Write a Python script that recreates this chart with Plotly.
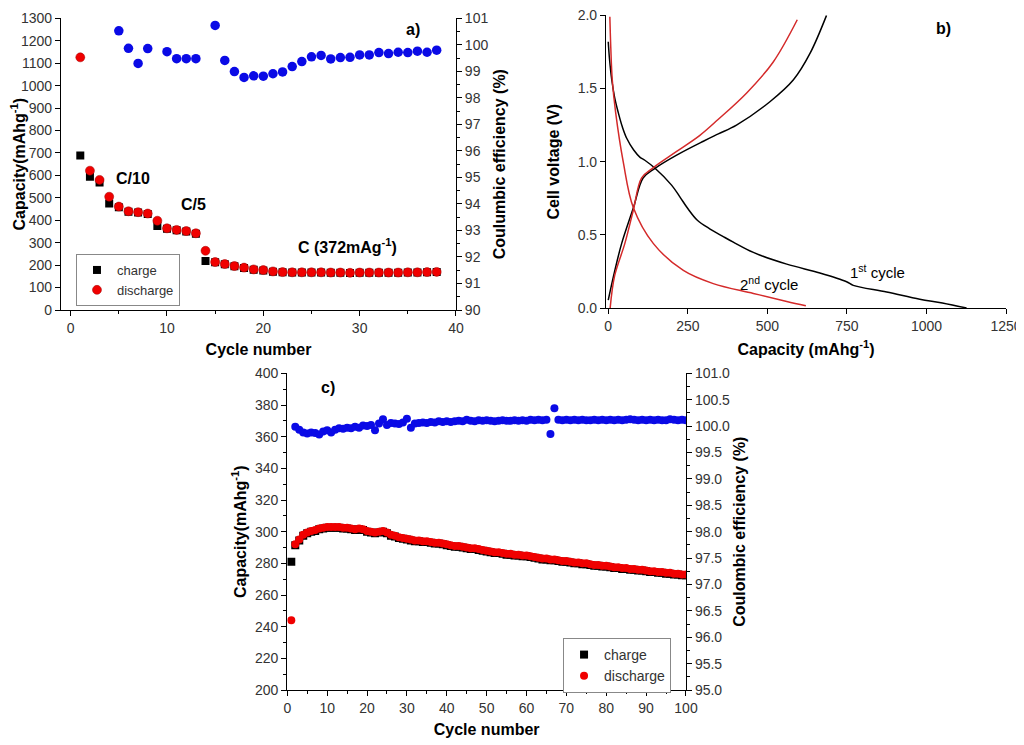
import plotly.graph_objects as go

# ---- panel a: rate capability (cycles 1-38) ----
cycles_a = list(range(1, 39))
charge_a = [689, 594, 568, 475, 458, 438, 435, 428, 374, 362, 355, 350, 340, 218,
            213, 204, 195, 187, 180, 176, 171, 168, 167, 167, 167, 167, 166, 166,
            165, 166, 166, 166, 166, 166, 167, 167, 168, 169]
discharge_a = [1126, 621, 580, 505, 461, 440, 436, 430, 398, 364, 357, 352, 342, 264,
               214, 205, 196, 189, 181, 178, 172, 169, 168, 168, 168, 168, 167, 167,
               166, 167, 167, 167, 167, 167, 168, 168, 169, 170]
ce_a = [None, None, None, None, 100.53, 99.87, 99.30, 99.86, None, 99.74, 99.48, 99.48,
        99.48, None, 100.73, 99.41, 98.99, 98.77, 98.83, 98.82, 98.91, 98.98, 99.18,
        99.37, 99.55, 99.60, 99.47, 99.52, 99.53, 99.62, 99.62, 99.71, 99.67, 99.72,
        99.71, 99.76, 99.72, 99.80]

# ---- panel b: voltage profiles ----
cap_1st_dis = [0, 4, 11, 20, 31, 44, 58, 80, 100, 115, 147, 199, 225, 250, 280, 320,
               360, 393, 456, 561, 665, 749, 770, 875, 979, 1050, 1126]
v_1st_dis = [1.82, 1.70, 1.56, 1.44, 1.34, 1.24, 1.16, 1.08, 1.03, 1.01, 0.955, 0.84,
             0.76, 0.68, 0.60, 0.54, 0.49, 0.45, 0.38, 0.30, 0.24, 0.18, 0.155, 0.11,
             0.06, 0.035, 0.0]
cap_1st_chg = [0, 20, 42, 79, 110, 147, 215, 299, 346, 403, 508, 582, 634, 686]
v_1st_chg = [0.054, 0.25, 0.44, 0.685, 0.89, 0.955, 1.045, 1.14, 1.19, 1.25, 1.41,
             1.56, 1.74, 2.0]
cap_2nd_dis = [5, 8, 12.6, 23, 47, 79, 142, 236, 330, 456, 561, 621]
v_2nd_dis = [1.99, 1.78, 1.56, 1.34, 1.0, 0.685, 0.44, 0.257, 0.167, 0.10, 0.045, 0.016]
cap_2nd_chg = [6, 20, 52, 79, 105, 142, 215, 288, 346, 435, 518, 594]
v_2nd_chg = [0.0, 0.22, 0.44, 0.67, 0.89, 0.96, 1.07, 1.18, 1.29, 1.47, 1.68, 1.97]

# ---- panel c: long cycling (cycles 1-100) ----
cycles_c = list(range(1, 101))
discharge_c = [244, 292, 295, 298, 299.5, 300.5, 301, 302, 302.5, 303,
               303, 303, 303, 302.5, 302.5, 302, 301.5, 302, 301.5, 300.5,
               300, 299.5, 300, 300.5, 299.5, 298, 297.5, 296.5, 296, 295.5,
               295, 294.5, 294.5, 294, 294, 293.5, 293, 293, 292.5, 292,
               291.5, 291, 291, 290.5, 290, 289.5, 289.5, 289, 288.5, 288,
               287.5, 287, 287, 286.5, 286, 286, 285.5, 285.5, 285, 285,
               284.5, 284, 283.5, 283, 283, 282.5, 282.5, 282, 281.5, 281.5,
               281, 280.5, 280.5, 280, 280, 279.5, 279, 279, 278.5, 278.5,
               278, 277.5, 277.5, 277, 277, 276.5, 276.5, 276, 276, 275.5,
               275, 275, 274.5, 274.5, 274, 274, 273.5, 273.5, 273, 273]
charge_c = [281, 291.5, 294.5, 297.5, 299, 300, 300.5, 301.5, 302, 302.5,
            302.5, 302.5, 302.5, 302, 302, 301.5, 301, 301.5, 301, 300,
            299.5, 299, 299.5, 300, 299, 297.5, 297, 296, 295.5, 295,
            294.5, 294, 294, 293.5, 293.5, 293, 292.5, 292.5, 292, 291.5,
            291, 290.5, 290.5, 290, 289.5, 289, 289, 288.5, 288, 287.5,
            287, 286.5, 286.5, 286, 285.5, 285.5, 285, 285, 284.5, 284.5,
            284, 283.5, 283, 282.5, 282.5, 282, 282, 281.5, 281, 281,
            280.5, 280, 280, 279.5, 279.5, 279, 278.5, 278.5, 278, 278,
            277.5, 277, 277, 276.5, 276.5, 276, 276, 275.5, 275.5, 275,
            274.5, 274.5, 274, 274, 273.5, 273.5, 273, 273, 272.5, 272.5]
ce_c = [None, 99.99, 99.93, 99.88, 99.86, 99.88, 99.87, 99.84, 99.90, 99.92,
        99.88, 99.93, 99.96, 99.95, 99.97, 99.96, 99.99, 99.97, 100.01, 100.00,
        100.02, 99.92, 100.05, 100.13, 100.02, 100.06, 100.05, 100.04, 100.07, 100.14,
        99.97, 100.05, 100.06, 100.07, 100.06, 100.08, 100.07, 100.09, 100.08, 100.09,
        100.08, 100.09, 100.10, 100.09, 100.12, 100.10, 100.09, 100.11, 100.10, 100.11,
        100.10, 100.09, 100.10, 100.11, 100.10, 100.10, 100.11, 100.10, 100.11, 100.10,
        100.12, 100.11, 100.12, 100.11, 100.12, 99.85, 100.34, 100.12, 100.11, 100.12,
        100.11, 100.12, 100.11, 100.12, 100.11, 100.11, 100.12, 100.11, 100.12, 100.11,
        100.12, 100.11, 100.12, 100.11, 100.12, 100.13, 100.12, 100.11, 100.12, 100.11,
        100.12, 100.11, 100.12, 100.11, 100.11, 100.13, 100.12, 100.11, 100.12, 100.11]

FONT = "Liberation Sans, Arial, sans-serif"
RED = "#f00000"
BLUE = "#0a0ae6"

fig = go.Figure()

# panel a
fig.add_trace(go.Scatter(x=cycles_a, y=charge_a, mode="markers", name="charge",
                         marker=dict(symbol="square", size=8, color="black"),
                         xaxis="x", yaxis="y", legend="legend"))
fig.add_trace(go.Scatter(x=cycles_a, y=discharge_a, mode="markers", name="discharge",
                         marker=dict(symbol="circle", size=9, color=RED,
                                     line=dict(width=0.5, color="#a00000")),
                         xaxis="x", yaxis="y", legend="legend"))
fig.add_trace(go.Scatter(x=cycles_a, y=ce_a, mode="markers", showlegend=False,
                         marker=dict(symbol="circle", size=9.5, color=BLUE),
                         xaxis="x", yaxis="y2"))

# panel b
fig.add_trace(go.Scatter(x=cap_1st_dis, y=v_1st_dis, mode="lines", showlegend=False,
                         line=dict(color="black", width=1.5, shape="spline"),
                         xaxis="x2", yaxis="y3"))
fig.add_trace(go.Scatter(x=cap_1st_chg, y=v_1st_chg, mode="lines", showlegend=False,
                         line=dict(color="black", width=1.5, shape="spline"),
                         xaxis="x2", yaxis="y3"))
fig.add_trace(go.Scatter(x=cap_2nd_dis, y=v_2nd_dis, mode="lines", showlegend=False,
                         line=dict(color="#d42a2a", width=1.5, shape="spline"),
                         xaxis="x2", yaxis="y3"))
fig.add_trace(go.Scatter(x=cap_2nd_chg, y=v_2nd_chg, mode="lines", showlegend=False,
                         line=dict(color="#d42a2a", width=1.5, shape="spline"),
                         xaxis="x2", yaxis="y3"))

# panel c
fig.add_trace(go.Scatter(x=cycles_c, y=charge_c, mode="markers", name="charge",
                         marker=dict(symbol="square", size=8, color="black"),
                         xaxis="x3", yaxis="y4", legend="legend2"))
fig.add_trace(go.Scatter(x=cycles_c, y=discharge_c, mode="markers", name="discharge",
                         marker=dict(symbol="circle", size=8, color=RED),
                         xaxis="x3", yaxis="y4", legend="legend2"))
fig.add_trace(go.Scatter(x=cycles_c, y=ce_c, mode="markers", showlegend=False,
                         marker=dict(symbol="circle", size=8, color=BLUE),
                         xaxis="x3", yaxis="y5"))

tick_font = dict(family=FONT, size=14, color="#333333")
title_font = dict(family=FONT, size=16, color="black")


def ax(**kw):
    base = dict(showline=True, linecolor="black", linewidth=1.2, ticks="outside",
                ticklen=5, tickcolor="black", showgrid=False, zeroline=False,
                tickfont=tick_font, title_font=title_font, mirror=False,
                automargin=False, ticklabeloverflow="allow")
    base.update(kw)
    return base


# page has an 8px body margin, so the figure is 8px smaller and everything shifted
fig.update_layout(
    width=1016, height=737,
    margin=dict(l=0, r=0, t=0, b=0),
    paper_bgcolor="white", plot_bgcolor="white",
    font=dict(family=FONT),
    xaxis=ax(domain=[0.0522, 0.4409], range=[-1, 40], dtick=10, anchor="y",
             minor=dict(ticks="outside", ticklen=3, dtick=5, tickcolor="black"),
             title=dict(text="<b>Cycle number</b>", standoff=8)),
    yaxis=ax(domain=[0.5902, 0.9860], range=[0, 1300], dtick=100, anchor="x",
             title=dict(text="<b>Capacity(mAhg<sup>-1</sup>)</b>", standoff=18)),
    yaxis2=ax(range=[90, 101], dtick=1, overlaying="y", side="right", anchor="x",
              minor=dict(ticks="outside", ticklen=3, dtick=0.5, tickcolor="black"),
              title=dict(text="<b>Coulumbic efficiency (%)</b>", standoff=6)),
    xaxis2=ax(domain=[0.5886, 0.9823], range=[-7, 1250], dtick=250, anchor="y3",
              title=dict(text="<b>Capacity (mAhg<sup>-1</sup>)</b>", standoff=10)),
    yaxis3=ax(domain=[0.5929, 0.9900], range=[0, 2], dtick=0.5, tickformat=".1f",
              anchor="x2",
              title=dict(text="<b>Cell voltage (V)</b>", standoff=14)),
    xaxis3=ax(domain=[0.2749, 0.6673], range=[0, 100], dtick=10, anchor="y4",
              minor=dict(ticks="outside", ticklen=3, dtick=5, tickcolor="black"),
              title=dict(text="<b>Cycle number</b>", standoff=8)),
    yaxis4=ax(domain=[0.0746, 0.5043], range=[200, 400], dtick=20, anchor="x3",
              minor=dict(ticks="outside", ticklen=3, dtick=10, tickcolor="black"),
              title=dict(text="<b>Capacity(mAhg<sup>-1</sup>)</b>", standoff=4)),
    yaxis5=ax(range=[95, 101], dtick=0.5, tickformat=".1f", overlaying="y4",
              side="right", anchor="x3",
              minor=dict(ticks="outside", ticklen=3, dtick=0.25, tickcolor="black"),
              title=dict(text="<b>Coulombic efficiency (%)</b>", standoff=4)),
    legend=dict(x=0.0669, y=0.6662, xanchor="left", yanchor="top",
                bordercolor="#888888", borderwidth=1, bgcolor="white",
                font=dict(family=FONT, size=13, color="#333333"),
                tracegroupgap=0, itemwidth=30),
    legend2=dict(x=0.5463, y=0.1452, xanchor="left", yanchor="top",
                 bordercolor="#888888", borderwidth=1, bgcolor="white",
                 font=dict(family=FONT, size=14, color="#333333"),
                 tracegroupgap=0, itemwidth=30),
)

ann_font = dict(family=FONT, size=16, color="black")
fig.add_annotation(x=35.5, y=1248, xref="x", yref="y", text="<b>a)</b>",
                   showarrow=False, font=ann_font)
fig.add_annotation(x=6.5, y=584, xref="x", yref="y", text="<b>C/10</b>",
                   showarrow=False, font=ann_font)
fig.add_annotation(x=12.8, y=472, xref="x", yref="y", text="<b>C/5</b>",
                   showarrow=False, font=ann_font)
fig.add_annotation(x=28.7, y=285, xref="x", yref="y",
                   text="<b>C (372mAg<sup>-1</sup>)</b>", showarrow=False, font=ann_font)
fig.add_annotation(x=1052, y=1.91, xref="x2", yref="y3", text="<b>b)</b>",
                   showarrow=False, font=ann_font)
fig.add_annotation(x=505, y=0.17, xref="x2", yref="y3", text="2<sup>nd</sup> cycle",
                   showarrow=False, font=dict(family=FONT, size=15, color="black"))
fig.add_annotation(x=847, y=0.25, xref="x2", yref="y3", text="1<sup>st</sup> cycle",
                   showarrow=False, font=dict(family=FONT, size=15, color="black"))
fig.add_annotation(x=10.2, y=391, xref="x3", yref="y4", text="<b>c)</b>",
                   showarrow=False, font=ann_font)

fig.write_html("out.html")
